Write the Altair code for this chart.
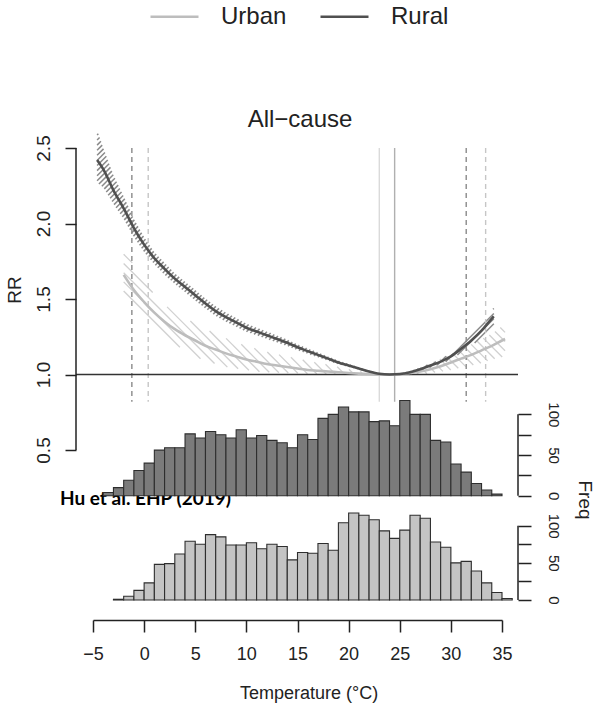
import altair as alt
import numpy as np
import pandas as pd

FONT = "Liberation Sans"

# ---------------- data ----------------
rural_temp = [-4.6, -4, -3, -2, -1, 0, 1, 2, 3, 4, 5, 6, 7, 8, 9, 10, 11, 12, 13, 14, 15,
              16, 17, 18, 19, 20, 21, 22, 23, 24, 25, 26, 27, 28, 29, 30, 31, 32, 33, 34, 34.2]
rural_rr = [2.42, 2.36, 2.22, 2.10, 1.97, 1.86, 1.77, 1.70, 1.635, 1.58, 1.525, 1.47, 1.42,
            1.38, 1.345, 1.31, 1.285, 1.26, 1.235, 1.21, 1.18, 1.155, 1.13, 1.105, 1.08, 1.06,
            1.04, 1.02, 1.005, 1.0, 1.003, 1.015, 1.035, 1.06, 1.085, 1.12, 1.17, 1.225, 1.29,
            1.37, 1.385]
rural_lo = [2.27, 2.24, 2.13, 2.03, 1.91, 1.81, 1.73, 1.66, 1.60, 1.545, 1.49, 1.437, 1.388,
            1.35, 1.316, 1.283, 1.26, 1.236, 1.212, 1.189, 1.161, 1.137, 1.114, 1.091, 1.068,
            1.05, 1.032, 1.015, 1.003, 1.0, 1.0, 1.01, 1.026, 1.048, 1.07, 1.1, 1.145, 1.192,
            1.245, 1.32, 1.33]
rural_hi = [2.62, 2.50, 2.32, 2.18, 2.03, 1.91, 1.81, 1.74, 1.67, 1.615, 1.56, 1.503, 1.452,
            1.41, 1.374, 1.337, 1.31, 1.284, 1.258, 1.231, 1.199, 1.173, 1.146, 1.119, 1.092,
            1.07, 1.048, 1.025, 1.007, 1.0, 1.006, 1.02, 1.044, 1.072, 1.1, 1.14, 1.195, 1.258,
            1.335, 1.42, 1.44]

urban_temp = [-2, -1, 0, 1, 2, 3, 4, 5, 6, 7, 8, 9, 10, 11, 12, 13, 14, 15, 16, 17, 18, 19,
              20, 21, 22, 23, 24, 25, 26, 27, 28, 29, 30, 31, 32, 33, 34, 35, 35.3]
urban_rr = [1.66, 1.56, 1.48, 1.41, 1.35, 1.30, 1.26, 1.225, 1.19, 1.165, 1.14, 1.12, 1.10,
            1.085, 1.07, 1.06, 1.05, 1.04, 1.03, 1.025, 1.02, 1.015, 1.01, 1.006, 1.003, 1.0,
            1.0, 1.002, 1.01, 1.02, 1.035, 1.055, 1.08, 1.105, 1.13, 1.16, 1.19, 1.225, 1.235]
urban_lo = [1.50, 1.43, 1.36, 1.30, 1.25, 1.20, 1.16, 1.12, 1.09, 1.07, 1.05, 1.04, 1.03,
            1.02, 1.015, 1.012, 1.01, 1.008, 1.005, 1.003, 1.0, 0.999, 0.998, 0.999, 0.999, 1.0,
            1.0, 0.998, 0.997, 1.0, 1.008, 1.018, 1.03, 1.045, 1.06, 1.075, 1.10, 1.115, 1.12]
urban_hi = [1.84, 1.72, 1.61, 1.53, 1.46, 1.41, 1.37, 1.34, 1.30, 1.27, 1.24, 1.21, 1.19,
            1.17, 1.15, 1.135, 1.12, 1.105, 1.09, 1.077, 1.065, 1.05, 1.035, 1.022, 1.012, 1.0,
            1.0, 1.008, 1.025, 1.048, 1.075, 1.105, 1.135, 1.165, 1.2, 1.235, 1.27, 1.32, 1.34]

# temperature cut points (percentile and minimum-mortality lines)
rural_pct = [-1.2, 31.5]
urban_pct = [0.4, 33.4]
rural_mmt = [24.5]
urban_mmt = [23.0]

# daily temperature histograms (1 degree bins)
bin_start = list(range(-4, 36))
rural_freq = [4, 10, 19, 31, 40, 56, 59, 59, 76, 71, 79, 75, 71, 81, 71, 74, 68, 65, 59, 75,
              69, 95, 100, 109, 103, 103, 91, 92, 86, 117, 100, 100, 68, 66, 39, 29, 15, 7, 2, 0]
urban_freq = [0, 1, 5, 13, 23, 48, 49, 62, 79, 75, 88, 85, 74, 74, 77, 69, 75, 72, 54, 64,
              63, 76, 67, 104, 117, 114, 108, 93, 83, 94, 114, 110, 78, 71, 50, 52, 39, 23, 10, 2]

x_ticks = [-5, 0, 5, 10, 15, 20, 25, 30, 35]
rr_ticks = [0.5, 1.0, 1.5, 2.0, 2.5]
freq_ticks = [0, 25, 50, 75, 100]

# ---------------- layout ----------------
W, H = 409, 452
X0, X1 = -5, 35
RR_TOP = 2.5
PX_PER_RR = 151.0
RR_BOTTOM = RR_TOP - H / PX_PER_RR
PX_PER_T = W / (X1 - X0)
RURAL_FREQ_DOMAIN = [-128.1, 427.2]
URBAN_FREQ_DOMAIN = [0, 608.3]
LEFT_OFF, RIGHT_OFF = 17, 16

URBAN_COL, RURAL_COL = "#bdbdbd", "#505050"
TXT = "#222222"


def hatch(temps, lo, hi, spacing, slope=1.0):
    """Diagonal hatching lines clipped to a confidence band (rendering only)."""
    temps = np.asarray(temps, float)
    tf = np.linspace(temps[0], temps[-1], 8000)
    lof = np.interp(tf, temps, lo)
    hif = np.interp(tf, temps, hi)
    px = (tf - X0) * PX_PER_T
    cmin = (RR_TOP - hif) * PX_PER_RR - slope * px
    cmax = (RR_TOP - lof) * PX_PER_RR - slope * px
    dc = spacing * np.sqrt(1 + slope ** 2)
    rows = []
    for c in np.arange(cmin.min(), cmax.max(), dc):
        inside = (cmin <= c) & (c <= cmax)
        idx = np.flatnonzero(inside)
        if idx.size < 2:
            continue
        br = np.flatnonzero(np.diff(idx) > 1)
        starts = np.r_[idx[0], idx[br + 1]]
        ends = np.r_[idx[br], idx[-1]]
        for s, e in zip(starts, ends):
            if e <= s:
                continue
            rows.append({"t": tf[s], "rr": RR_TOP - (slope * px[s] + c) / PX_PER_RR,
                         "t2": tf[e], "rr2": RR_TOP - (slope * px[e] + c) / PX_PER_RR})
    return pd.DataFrame(rows)


xscale = alt.Scale(domain=[X0, X1], nice=False, zero=False)
xaxis = alt.Axis(values=x_ticks, offset=20, tickSize=12, tickWidth=1.5, tickColor=TXT,
                 domainWidth=1.5, domainColor=TXT, labelFontSize=18, labelFont=FONT,
                 labelColor=TXT, labelPadding=13, labelFlush=False, labelOverlap=False,
                 grid=False, title=None)
rrscale = alt.Scale(domain=[RR_BOTTOM, RR_TOP], nice=False, zero=False)
rraxis = alt.Axis(values=rr_ticks, format=".1f", orient="left", offset=LEFT_OFF, domain=False,
                  tickSize=11, tickWidth=1.5, tickColor=TXT, labelAngle=270, labelAlign="center",
                  labelBaseline="bottom", labelPadding=12, labelFontSize=19, labelFont=FONT,
                  labelColor=TXT, labelFlush=False, labelOverlap=False, grid=False, title=None)


def freq_axis():
    return alt.Axis(values=freq_ticks, orient="right", offset=RIGHT_OFF, domain=False,
                    tickSize=13, tickWidth=1.5, tickColor=TXT, labelAngle=90,
                    labelAlign="center", labelBaseline="bottom", labelPadding=14,
                    labelFontSize=15, labelFont=FONT, labelColor=TXT, labelFlush=False,
                    labelOverlap=False,
                    labelExpr="datum.value % 50 === 0 ? datum.label : ''",
                    grid=False, title=None)


def X(field):
    return alt.X(field, type="quantitative", scale=xscale, axis=xaxis)


def Yrr(field):
    return alt.Y(field, type="quantitative", scale=rrscale, axis=rraxis)


# ---------------- RR panel ----------------
urban_h = hatch(urban_temp, urban_lo, urban_hi, spacing=6.5, slope=1.0)
rural_h = hatch(rural_temp, rural_lo, rural_hi, spacing=3.6, slope=-1.0)

hatch_u = alt.Chart(urban_h).mark_rule(stroke="#d0d0d0", strokeWidth=1.3).encode(
    x=X("t"), y=Yrr("rr"), x2="t2", y2="rr2")
hatch_r = alt.Chart(rural_h).mark_rule(stroke="#8a8a8a", strokeWidth=1.5).encode(
    x=X("t"), y=Yrr("rr"), x2="t2", y2="rr2")

curves_df = pd.concat([
    pd.DataFrame({"t": urban_temp, "rr": urban_rr, "group": "Urban"}),
    pd.DataFrame({"t": rural_temp, "rr": rural_rr, "group": "Rural"}),
])
curves = alt.Chart(curves_df).mark_line(interpolate="monotone", strokeWidth=2.6).encode(
    x=X("t"), y=Yrr("rr"),
    color=alt.Color("group:N", sort=["Urban", "Rural"],
                    scale=alt.Scale(domain=["Urban", "Rural"], range=[URBAN_COL, RURAL_COL]),
                    legend=alt.Legend(orient="none", legendX=56, legendY=-157,
                                      direction="horizontal", title=None, symbolType="stroke",
                                      symbolSize=2304, symbolStrokeWidth=2.6, labelFontSize=24,
                                      labelFont=FONT, labelColor=TXT, labelOffset=21,
                                      columnPadding=28, padding=0)),
    detail="group:N")

vl_df = pd.DataFrame({
    "t": rural_pct + urban_pct + urban_mmt + rural_mmt,
    "kind": ["rp", "rp", "up", "up", "um", "rm"],
})
vstyles = {"rp": ("#8a8a8a", [5, 4]), "up": ("#c6c6c6", [5, 4]),
           "um": ("#dadada", [1, 0]), "rm": ("#b0b0b0", [1, 0])}
vlines = [
    alt.Chart(vl_df[vl_df.kind == k]).mark_rule(stroke=c, strokeWidth=1.4, strokeDash=d).encode(
        x=X("t"), y=alt.YDatum(RR_TOP), y2=alt.Y2Datum(0.82))
    for k, (c, d) in vstyles.items()
]

one_line = alt.Chart(pd.DataFrame({"rr": [1.0]})).mark_rule(stroke="#333333", strokeWidth=1.4).encode(
    y=Yrr("rr"), x=alt.value(-LEFT_OFF), x2=alt.value(W + RIGHT_OFF))

rr_axis_line = alt.Chart(pd.DataFrame({"a": [min(rr_ticks)], "b": [max(rr_ticks)]})).mark_rule(
    stroke=TXT, strokeWidth=1.5).encode(y=Yrr("a"), y2="b", x=alt.value(-LEFT_OFF))

dummy = pd.DataFrame({"a": [0]})
txt_title = alt.Chart(dummy).mark_text(text="All\u2212cause", fontSize=24, font=FONT, color=TXT,
                                       align="center", baseline="middle").encode(
    x=alt.value(207), y=alt.value(-28))
txt_rr = alt.Chart(dummy).mark_text(text="RR", angle=270, fontSize=19, font=FONT, color=TXT,
                                    align="center", baseline="middle").encode(
    x=alt.value(-78), y=alt.value(142))
txt_freq = alt.Chart(dummy).mark_text(text="Freq", angle=90, fontSize=19, font=FONT, color=TXT,
                                      align="center", baseline="middle").encode(
    x=alt.value(492), y=alt.value(352))
txt_xt = alt.Chart(dummy).mark_text(text="Temperature (°C)", fontSize=18, font=FONT, color=TXT,
                                    align="center", baseline="middle").encode(
    x=alt.value(216), y=alt.value(546))
txt_src = alt.Chart(dummy).mark_text(text="Hu et al. EHP (2019)", fontSize=19, font="Lato",
                                     fontWeight="bold", color="#000000", align="left",
                                     baseline="alphabetic").encode(
    x=alt.value(-33), y=alt.value(357))

rr_panel = alt.layer(hatch_u, hatch_r, *vlines, one_line, curves, rr_axis_line,
                     txt_title, txt_rr, txt_freq, txt_xt, txt_src)

# ---------------- histograms ----------------
hist_df = pd.DataFrame({"b0": bin_start, "b1": [b + 1 for b in bin_start],
                        "rural": rural_freq, "urban": urban_freq})


def hist_panel(col, domain, fill):
    ys = alt.Scale(domain=domain, nice=False, zero=False)
    ax = freq_axis()
    bars = alt.Chart(hist_df[hist_df[col] > 0]).mark_rect(
        fill=fill, stroke="#2e2e2e", strokeWidth=1.1).encode(
        x=X("b0"), x2="b1",
        y=alt.Y(col, type="quantitative", scale=ys, axis=ax), y2=alt.Y2Datum(0))
    axline = alt.Chart(pd.DataFrame({"a": [min(freq_ticks)], "b": [max(freq_ticks)]})).mark_rule(
        stroke=TXT, strokeWidth=1.5).encode(
        y=alt.Y("a", type="quantitative", scale=ys, axis=ax), y2="b",
        x=alt.value(W + RIGHT_OFF))
    return alt.layer(bars, axline)


rural_panel = hist_panel("rural", RURAL_FREQ_DOMAIN, "#7b7b7b")
urban_panel = hist_panel("urban", URBAN_FREQ_DOMAIN, "#c4c4c4")

chart = alt.layer(rr_panel, rural_panel, urban_panel).resolve_scale(y="independent").properties(
    width=W, height=H,
    background="white",
    autosize=alt.AutoSizeParams(type="none"),
    padding={"left": 93, "top": 148, "right": 601 - 93 - W, "bottom": 706 - 148 - H},
).configure_view(strokeWidth=0, stroke="transparent")

chart.save("out.html", embed_options={"renderer": "svg", "actions": False})
